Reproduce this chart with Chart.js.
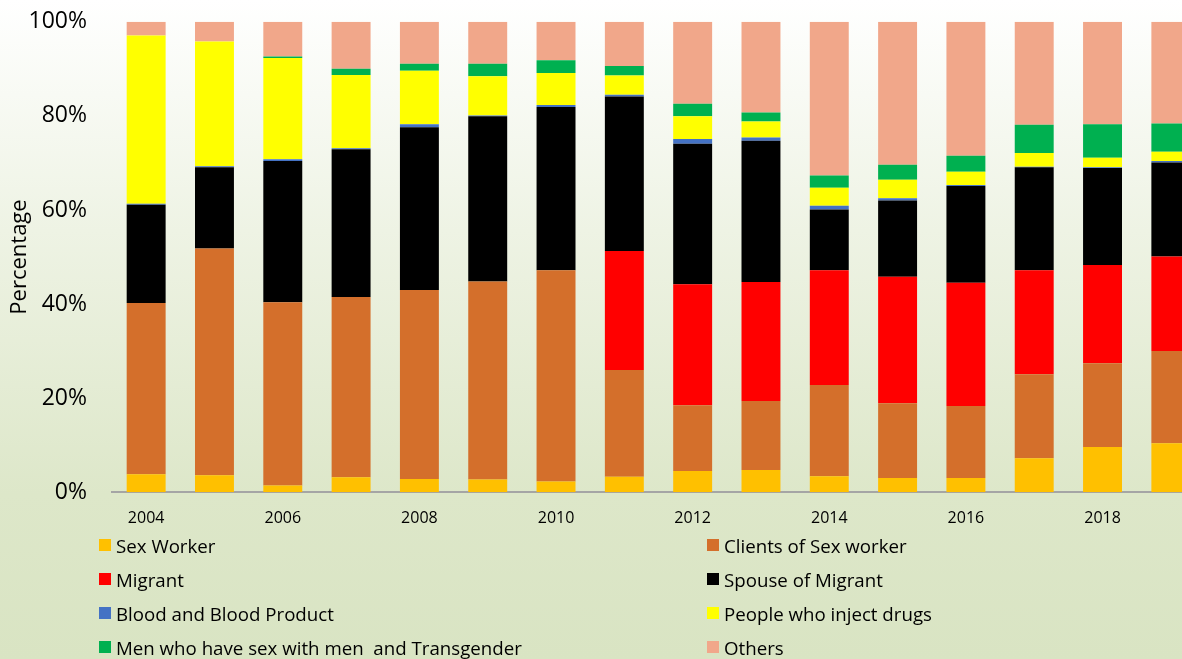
<!DOCTYPE html>
<html>
<head>
<meta charset="utf-8">
<script src="https://cdn.jsdelivr.net/npm/chart.js@4/dist/chart.umd.min.js"></script>
<style>
  html, body {
    margin: 0;
    padding: 0;
    width: 1182px;
    height: 659px;
    overflow: hidden;
    font-family: "Open Sans", sans-serif;
    background: linear-gradient(to bottom, #ffffff 0%, #eef3e4 35%, #dde7c9 75%, #d9e4c3 100%);
  }
  .wrap { position: absolute; left: 0; top: -17px; width: 1210px; height: 548px; }
  #legend {
    position: absolute;
    left: 99px;
    top: 528px;
    display: grid;
    grid-template-columns: 608px auto;
    grid-auto-rows: 34px;
  }
  .item { display: flex; align-items: center; font-size: 18.7px; color: #000; white-space: pre; }
  .sw { width: 12px; height: 12px; margin-right: 5px; flex: none; }
</style>
</head>
<body>
<div class="wrap"><canvas id="chart"></canvas></div>
<div id="legend"></div>
<script>
"use strict";

const years = ["2004", "2005", "2006", "2007", "2008", "2009", "2010", "2011",
  "2012", "2013", "2014", "2015", "2016", "2017", "2018", "2019"];

const seriesNames = ["Sex Worker", "Clients of Sex worker", "Migrant", "Spouse of Migrant",
  "Blood and Blood Product", "People who inject drugs",
  "Men who have sex with men  and Transgender", "Others"];

const sexWorker = [3.8, 3.6, 1.4, 3.2, 2.8, 2.7, 2.3, 3.3, 4.5, 4.7, 3.4, 3.0, 3.0, 7.2, 9.6, 10.4];
const clients   = [36.4, 48.2, 39.0, 38.3, 40.2, 42.1, 44.9, 22.7, 14.0, 14.7, 19.4, 15.9, 15.3, 17.9, 17.8, 19.6];
const migrant   = [0, 0, 0, 0, 0, 0, 0, 25.3, 25.7, 25.3, 24.4, 26.9, 26.2, 22.1, 20.9, 20.1];
const spouse    = [20.9, 17.3, 30.0, 31.4, 34.6, 35.1, 34.7, 32.8, 29.9, 30.0, 12.9, 16.2, 20.6, 21.9, 20.6, 20.0];
const blood     = [0.2, 0.2, 0.4, 0.2, 0.6, 0.2, 0.4, 0.4, 1.0, 0.7, 0.8, 0.5, 0.2, 0.1, 0.2, 0.3];
const pwid      = [35.8, 26.5, 21.5, 15.6, 11.4, 8.3, 6.8, 4.1, 4.8, 3.4, 3.8, 3.9, 2.8, 2.9, 2.0, 2.0];
const msm       = [0, 0, 0.3, 1.3, 1.5, 2.7, 2.7, 2.0, 2.7, 1.9, 2.6, 3.2, 3.4, 6.0, 7.1, 6.0];
const others    = [2.9, 4.2, 7.4, 10.0, 8.9, 8.9, 8.2, 9.4, 17.4, 19.3, 32.7, 30.4, 28.5, 21.9, 21.8, 21.6];

const yTicks = [0, 20, 40, 60, 80, 100];

const colors = ["#FFC000", "#D46F2B", "#FF0000", "#000000", "#4472C4", "#FFFF00", "#00B050", "#F1A78A"];

(function () {
  const el = (id) => document.getElementById(id);
  const values = [sexWorker, clients, migrant, spouse, blood, pwid, msm, others];
  const FONT = "'Open Sans', sans-serif";

  const datasets = seriesNames.map((name, i) => ({
    label: name,
    data: values[i],
    backgroundColor: colors[i],
    borderWidth: 0,
    barPercentage: 0.57,
    categoryPercentage: 1.0,
  }));

  new Chart(el("chart").getContext("2d"), {
    type: "bar",
    data: { labels: years, datasets },
    options: {
      responsive: true,
      maintainAspectRatio: false,
      animation: false,
      layout: { padding: { top: 5, right: 5, bottom: 0, left: 0 } },
      plugins: { legend: { display: false }, tooltip: { enabled: false } },
      scales: {
        x: {
          stacked: true,
          grid: { display: false, drawTicks: false },
          border: { display: true, color: "#A5A5A5", width: 2 },
          ticks: {
            autoSkip: false,
            maxRotation: 0,
            padding: 17,
            color: "#000",
            font: { family: FONT, size: 16 },
            callback: (v, i) => (i % 2 === 0 ? years[i] : ""),
          },
          afterFit: (s) => { s.height = 38; },
        },
        y: {
          stacked: true,
          min: 0,
          max: 100,
          afterBuildTicks: (s) => { s.ticks = yTicks.map((v) => ({ value: v })); },
          grid: { display: false, drawTicks: false },
          border: { display: false },
          ticks: {
            padding: 25,
            color: "#000",
            font: { family: FONT, size: 23 },
            callback: (v) => v + "%",
          },
          title: {
            display: true,
            text: "Percentage",
            color: "#000",
            padding: { top: 7, bottom: 0 },
            font: { family: FONT, size: 22, weight: "normal" },
          },
          afterFit: (s) => { s.width = 112; },
        },
      },
    },
  });

  const legend = el("legend");
  seriesNames.forEach((name, i) => {
    const item = document.createElement("div");
    item.className = "item";
    const sw = document.createElement("span");
    sw.className = "sw";
    sw.style.background = colors[i];
    item.appendChild(sw);
    item.appendChild(document.createTextNode(name));
    legend.appendChild(item);
  });
})();
</script>
</body>
</html>
